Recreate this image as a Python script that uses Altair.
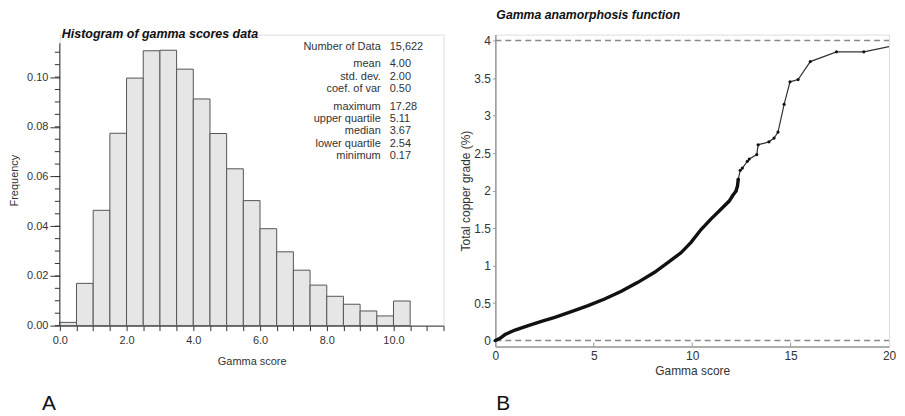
import altair as alt
import pandas as pd

FONT = "Liberation Sans"

# ---------------- Panel A data: histogram of gamma scores ----------------
bin_start = [0.0, 0.5, 1.0, 1.5, 2.0, 2.5, 3.0, 3.5, 4.0, 4.5, 5.0,
             5.5, 6.0, 6.5, 7.0, 7.5, 8.0, 8.5, 9.0, 9.5, 10.0]
bin_end = [0.5, 1.0, 1.5, 2.0, 2.5, 3.0, 3.5, 4.0, 4.5, 5.0, 5.5,
           6.0, 6.5, 7.0, 7.5, 8.0, 8.5, 9.0, 9.5, 10.0, 10.5]
frequency = [0.0013, 0.0170, 0.0464, 0.0774, 0.0996, 0.1106, 0.1108, 0.1032,
             0.0912, 0.0773, 0.0631, 0.0503, 0.0390, 0.0297, 0.0223, 0.0163,
             0.0118, 0.0086, 0.0059, 0.0039, 0.0099]

stat_labels = ["Number of Data", "mean", "std. dev.", "coef. of var",
               "maximum", "upper quartile", "median", "lower quartile", "minimum"]
stat_values = ["15,622", "4.00", "2.00", "0.50",
               "17.28", "5.11", "3.67", "2.54", "0.17"]

# ---------------- Panel B data: gamma anamorphosis function ----------------
gamma_score = [0.0, 0.24, 0.49, 1.0, 1.67, 2.34, 3.02, 3.86, 4.71, 5.55, 6.4,
               7.24, 8.09, 8.76, 9.43, 9.94, 10.45, 10.95, 11.46, 11.88, 12.05,
               12.22, 12.3, 12.34, 12.44, 12.55, 12.8, 12.9, 13.28, 13.35, 13.9,
               14.16, 14.36, 14.67, 14.97, 15.38, 16.0, 17.33, 18.72, 20.0]
copper_grade = [0.0, 0.03, 0.08, 0.14, 0.2, 0.257, 0.31, 0.385, 0.465, 0.554, 0.656,
                0.776, 0.91, 1.04, 1.17, 1.31, 1.48, 1.62, 1.75, 1.86, 1.93,
                1.99, 2.06, 2.15, 2.27, 2.3, 2.39, 2.42, 2.48, 2.61, 2.65,
                2.70, 2.78, 3.15, 3.45, 3.48, 3.72, 3.85, 3.85, 3.92]
reference_levels = [0.0, 4.0]

# ---------------- axis tick lists ----------------
a_x_ticks = [i * 0.5 for i in range(24)]
a_y_major = [0.0, 0.02, 0.04, 0.06, 0.08, 0.10]
a_y_minor = [round(i * 0.005, 3) for i in range(23)]
a_y_top = 0.1136
b_x_ticks = [0, 5, 10, 15, 20]
b_y_ticks = [0.0, 0.5, 1.0, 1.5, 2.0, 2.5, 3.0, 3.5, 4.0]

WA, HA = 385, 292
WB, HB = 395, 313

hist_df = pd.DataFrame({"start": bin_start, "end": bin_end, "freq": frequency})
curve_df = pd.DataFrame({"g": gamma_score, "cu": copper_grade})

xA = alt.Scale(domain=[0, 11.5], nice=False, zero=False)
yA = alt.Scale(domain=[0, 0.1171], nice=False)

bars = alt.Chart(hist_df).mark_rect(fill="#e6e6e6", stroke="#555", strokeWidth=1).encode(
    x=alt.X("start:Q", scale=xA, axis=alt.Axis(
        values=a_x_ticks, labelExpr="datum.value % 2 == 0 ? format(datum.value, '.1f') : ''",
        tickSize=5, tickColor="#333", domainColor="#333", labelColor="#333",
        labelFontSize=11, labelFont=FONT, labelPadding=4, labelOverlap=False,
        labelFlush=False,
        title="Gamma score", titleFont=FONT, titleFontSize=11, titleFontWeight="normal",
        titleColor="#333", titlePadding=10, grid=False)),
    x2="end:Q",
    y=alt.Y("freq:Q", scale=yA, axis=alt.Axis(
        values=a_y_major, format=".2f", tickSize=10, tickColor="#333", domain=False,
        labelColor="#333", labelFontSize=11, labelFont=FONT, labelPadding=2,
        labelOverlap=False, labelFlush=False, title="Frequency", titleFont=FONT,
        titleFontSize=11, titleFontWeight="normal", titleColor="#333", titlePadding=7,
        grid=False)),
)

a_axis_line = alt.Chart(pd.DataFrame({"y0": [0.0], "y1": [a_y_top]})).mark_rule(
    color="#333", strokeWidth=1).encode(
    x=alt.value(0), y=alt.Y("y0:Q", scale=yA), y2="y1:Q")

a_minor = alt.Chart(pd.DataFrame({"t": a_y_minor})).mark_rule(
    color="#333", strokeWidth=1).encode(
    x=alt.value(-5), x2=alt.value(0), y=alt.Y("t:Q", scale=yA))

a_title = alt.Chart(pd.DataFrame({"t": ["Histogram of gamma scores data"]})).mark_text(
    align="left", baseline="alphabetic", font=FONT, fontSize=12.5, fontStyle="italic",
    fontWeight="bold", color="#111").encode(text="t:N", x=alt.value(2), y=alt.value(3))

a_letter = alt.Chart(pd.DataFrame({"t": ["A"]})).mark_text(
    align="left", baseline="alphabetic", font=FONT, fontSize=21, color="#111").encode(
    text="t:N", x=alt.value(-18), y=alt.value(377))

stat_rows_y = [12.7, 29.3, 42.3, 55, 72.3, 84.3, 96.7, 109.7, 122]
stat_layers = []
for lab, val, ry in zip(stat_labels, stat_values, stat_rows_y):
    stat_layers.append(alt.Chart(pd.DataFrame({"t": [lab]})).mark_text(
        align="right", baseline="middle", font=FONT, fontSize=11, color="#333").encode(
        text="t:N", x=alt.value(322), y=alt.value(ry)))
    stat_layers.append(alt.Chart(pd.DataFrame({"t": [val]})).mark_text(
        align="left", baseline="middle", font=FONT, fontSize=11, color="#333").encode(
        text="t:N", x=alt.value(331), y=alt.value(ry)))

chartA = alt.layer(bars, a_axis_line, a_minor, a_title, a_letter, *stat_layers).properties(
    width=WA, height=HA)

# ---------------- Panel B ----------------
xB = alt.Scale(domain=[0, 20], nice=False, zero=False)
yB = alt.Scale(domain=[-0.08, 4.08], nice=False, zero=False)

b_x_axis = alt.Axis(
    values=b_x_ticks, labelExpr="format(datum.value, 'd')", tickSize=0,
    domainColor="#999", domainWidth=1.5,
    labelColor="#333", labelFontSize=12, labelFont=FONT, labelPadding=4,
    labelFlush=False, labelOverlap=False,
    title="Gamma score", titleFont=FONT, titleFontSize=12, titleFontWeight="normal",
    titleColor="#333", titlePadding=4, grid=False)
b_y_axis = alt.Axis(
    values=b_y_ticks,
    labelExpr="datum.value == floor(datum.value) ? format(datum.value, 'd') : format(datum.value, '.1f')",
    tickSize=3, tickColor="#999", domainColor="#999",
    domainWidth=1.5, labelColor="#333", labelFontSize=12, labelFont=FONT,
    labelPadding=2, labelOverlap=False, labelFlush=False, labelSeparation=0,
    title="Total copper grade (%)", titleFont=FONT, titleFontSize=12,
    titleFontWeight="normal", titleColor="#333", titlePadding=1, grid=False)

thin = alt.Chart(curve_df).mark_line(color="#333", strokeWidth=1.2).encode(
    x=alt.X("g:Q", scale=xB, axis=b_x_axis),
    y=alt.Y("cu:Q", scale=yB, axis=b_y_axis),
)

ref = alt.Chart(pd.DataFrame({"lvl": reference_levels})).mark_rule(
    color="#888", strokeWidth=1.5, strokeDash=[6, 4]).encode(
    x=alt.datum(0, scale=xB, axis=b_x_axis), x2=alt.datum(20),
    y=alt.Y("lvl:Q", scale=yB, axis=b_y_axis))

thick = alt.Chart(curve_df).transform_filter("datum.g <= 12.35").mark_line(
    color="#111", strokeWidth=3.4, strokeCap="round").encode(
    x=alt.X("g:Q", scale=xB, axis=b_x_axis), y=alt.Y("cu:Q", scale=yB, axis=b_y_axis))

dots = alt.Chart(curve_df).transform_filter("datum.g >= 11.9 && datum.g < 19.9").mark_point(
    filled=True, size=10, color="#111", opacity=1).encode(
    x=alt.X("g:Q", scale=xB, axis=b_x_axis), y=alt.Y("cu:Q", scale=yB, axis=b_y_axis))

b_ticks = alt.Chart(pd.DataFrame({"t": b_x_ticks[1:-1]})).mark_rule(
    color="#999", strokeWidth=1).encode(
    x=alt.X("t:Q", scale=xB, axis=b_x_axis), y=alt.value(HB), y2=alt.value(HB - 4))

b_title = alt.Chart(pd.DataFrame({"t": ["Gamma anamorphosis function"]})).mark_text(
    align="left", baseline="alphabetic", font=FONT, fontSize=12.3, fontStyle="italic",
    fontWeight="bold", color="#111").encode(text="t:N", x=alt.value(1), y=alt.value(-16))

b_letter = alt.Chart(pd.DataFrame({"t": ["B"]})).mark_text(
    align="left", baseline="alphabetic", font=FONT, fontSize=21, color="#111").encode(
    text="t:N", x=alt.value(1), y=alt.value(377))

chartB = alt.layer(thin, ref, thick, dots, b_ticks, b_title, b_letter).properties(
    width=WB, height=HB)

chart = alt.hconcat(chartA, chartB, spacing=52, bounds="flush").properties(
    padding={"left": 0, "top": -1, "right": 0, "bottom": 0}
).configure_view(strokeWidth=0).configure(background="white")

chart.save("out.html", embed_options={"renderer": "svg", "actions": False})
